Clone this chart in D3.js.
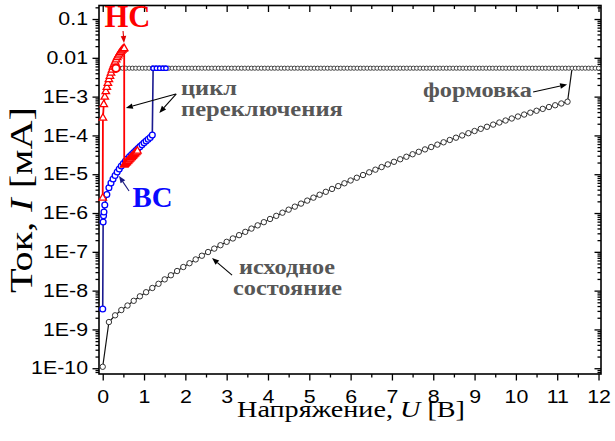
<!DOCTYPE html>
<html>
<head>
<meta charset="utf-8">
<script src="https://cdn.jsdelivr.net/npm/d3@7"></script>
<style>
  html, body { margin: 0; padding: 0; background: #fff; }
  svg { display: block; }
</style>
</head>
<body>
<svg id="chart" width="615" height="441"></svg>
<script>
// ---------- data: current (mA) vs voltage (V) ----------

// initial state sweep (black circles), 0 ... 11.25 V
const initialV = [0,0.15,0.3,0.45,0.6,0.75,0.9,1.05,1.2,1.35,1.5,1.65,1.8,1.95,2.1,2.25,2.4,2.55,
  2.7,2.85,3.0,3.15,3.3,3.45,3.6,3.75,3.9,4.05,4.2,4.35,4.5,4.65,4.8,4.95,5.1,5.25,5.4,5.55,5.7,5.85,
  6.0,6.15,6.3,6.45,6.6,6.75,6.9,7.05,7.2,7.35,7.5,7.65,7.8,7.95,8.1,8.25,8.4,8.55,8.7,8.85,9.0,9.15,
  9.3,9.45,9.6,9.75,9.9,10.05,10.2,10.35,10.5,10.65,10.8,10.95,11.1,11.25];
const initialI = [1.09e-10,1.55e-9,2.31e-9,3.16e-9,4.13e-9,5.46e-9,7.13e-9,9.1e-9,1.17e-8,1.5e-8,1.95e-8,
  2.49e-8,3.2e-8,4.06e-8,5.08e-8,6.37e-8,7.93e-8,9.88e-8,
  1.21e-7,1.48e-7,1.81e-7,2.21e-7,2.69e-7,3.27e-7,3.97e-7,4.81e-7,5.81e-7,7.02e-7,8.45e-7,1.02e-6,
  1.22e-6,1.46e-6,1.75e-6,2.09e-6,2.49e-6,2.96e-6,3.52e-6,4.18e-6,4.94e-6,5.84e-6,6.89e-6,8.11e-6,
  9.54e-6,1.12e-5,1.31e-5,1.53e-5,1.79e-5,2.09e-5,2.43e-5,2.82e-5,3.27e-5,3.78e-5,4.36e-5,5.03e-5,
  5.79e-5,6.65e-5,7.63e-5,8.74e-5,9.98e-5,1.14e-4,1.30e-4,1.48e-4,1.67e-4,1.90e-4,2.15e-4,2.42e-4,
  2.73e-4,3.07e-4,3.45e-4,3.86e-4,4.32e-4,4.83e-4,5.39e-4,5.99e-4,6.66e-4,7.39e-4];

// forming: current held at the compliance limit
const complianceI = 0.0054;
const formingJumpV = 11.36;
const formingV = [0.40,0.48,0.56,0.64,0.72,0.80,0.88,0.96,1.04,1.12,1.20,1.28,1.36,1.44,1.52,1.60,1.68,
  1.76,1.84,1.92,2.00,2.08,2.16,2.24,2.32,2.40,2.48,2.56,2.64,2.72,2.80,2.88,2.96,3.04,3.12,3.20,3.28,
  3.36,3.44,3.52,3.60,3.68,3.76,3.84,3.92,4.00,4.08,4.16,4.24,4.32,4.40,4.48,4.56,4.64,4.72,4.80,4.88,
  4.96,5.04,5.12,5.20,5.28,5.36,5.44,5.52,5.60,5.68,5.76,5.84,5.92,6.00,6.08,6.16,6.24,6.32,6.40,6.48,
  6.56,6.64,6.72,6.80,6.88,6.96,7.04,7.12,7.20,7.28,7.36,7.44,7.52,7.60,7.68,7.76,7.84,7.92,8.00,8.08,
  8.16,8.24,8.32,8.40,8.48,8.56,8.64,8.72,8.80,8.88,8.96,9.04,9.12,9.20,9.28,9.36,9.44,9.52,9.60,9.68,
  9.76,9.84,9.92,10.00,10.08,10.16,10.24,10.32,10.40,10.48,10.56,10.64,10.72,10.80,10.88,10.96,11.04,
  11.12,11.20,11.28,11.36,11.44,11.52,11.60,11.68,11.76,11.84,11.92,12.00];

// high-resistance state sweep (ВС, blue circles) with switching to compliance
const hrsV = [0,0.01,0.02,0.03,0.05,0.10,0.15,0.20,0.25,0.30,0.35,0.40,0.45,0.50,0.55,0.60,0.65,0.70,
  0.75,0.80,0.85,0.90,0.95,1.00,1.05,1.10,1.15,1.20,1.22,1.30,1.38,1.46,1.53];
const hrsI = [3.36e-9,5.86e-7,8.5e-7,1.06e-6,1.61e-6,3.0e-6,4.49e-6,5.92e-6,7.52e-6,9.25e-6,1.14e-5,
  1.36e-5,1.63e-5,1.88e-5,2.19e-5,2.5e-5,2.86e-5,3.21e-5,3.62e-5,4.07e-5,4.59e-5,5.14e-5,5.75e-5,
  6.43e-5,7.18e-5,7.96e-5,8.83e-5,1.02e-4,0.0054,0.0054,0.0054,0.0054,0.0054];

// low-resistance state sweep (НС, red triangles) with reset
const lrsV = [0,0.005,0.025,0.05,0.075,0.10,0.125,0.15,0.175,0.20,0.225,0.25,0.275,0.30,0.325,0.35,
  0.375,0.40,0.425,0.45,0.475,0.50,0.52,
  0.52,0.54,0.56,0.58,0.60,0.62,0.64,0.66,0.68,0.70,0.72,0.74,0.76,0.78,0.80,0.82,0.84];
const lrsI = [2.44e-6,2.81e-4,6.27e-4,9.77e-4,1.35e-3,1.74e-3,2.21e-3,2.75e-3,3.37e-3,4.06e-3,4.84e-3,
  5.79e-3,6.71e-3,7.8e-3,8.91e-3,1.02e-2,1.13e-2,1.25e-2,1.37e-2,1.5e-2,1.6e-2,1.7e-2,1.74e-2,
  1.73e-5,1.82e-5,1.91e-5,2.01e-5,2.12e-5,2.24e-5,2.36e-5,2.48e-5,2.62e-5,2.76e-5,2.9e-5,3.05e-5,
  3.22e-5,3.4e-5,3.57e-5,3.76e-5,3.96e-5];
const lrsComplianceV = [0.32];
const lrsComplianceI = [0.0054];

// axis ticks
const xTicks = [0,1,2,3,4,5,6,7,8,9,10,11,12];
const xMinorTicks = [0.5,1.5,2.5,3.5,4.5,5.5,6.5,7.5,8.5,9.5,10.5,11.5];
const yTicks = [1e-10,1e-9,1e-8,1e-7,1e-6,1e-5,1e-4,1e-3,1e-2,1e-1];
const yTickLabels = ["1E-10","1E-9","1E-8","1E-7","1E-6","1E-5","1E-4","1E-3","0.01","0.1"];

// ---------- layout ----------
const frame = { left: 99, right: 601, top: 5.5, bottom: 374 };
const svg = d3.select("#chart");
const x = d3.scaleLinear().domain([-0.09, 12.06]).range([frame.left, frame.right]);
const y = d3.scaleLog().domain([7.1e-11, 0.223]).range([frame.bottom, frame.top]);

const yMinorTicks = [];
yTicks.concat([1]).forEach(dec => {
  for (let m = 2; m <= 9; m++) {
    const v = dec / 10 * m;
    if (v > y.domain()[0] && v < y.domain()[1]) yMinorTicks.push(v);
  }
});

const sansFont = "'Liberation Sans', Arial, sans-serif";
const serifFont = "'Liberation Serif', 'Times New Roman', serif";
const textStretch = 1.22;

// ---------- axes ----------
function styleAxis(g) {
  g.select(".domain").remove();
  g.selectAll(".tick line").attr("stroke", "#000").attr("stroke-width", 1.3);
}
const yLabelOf = d => yTickLabels[yTicks.indexOf(d)];

svg.append("g").attr("transform", `translate(0,${frame.bottom})`)
  .call(d3.axisBottom(x).tickValues(xMinorTicks).tickSize(3.5).tickFormat("")).call(styleAxis);
const gx = svg.append("g").attr("transform", `translate(0,${frame.bottom})`)
  .call(d3.axisBottom(x).tickValues(xTicks).tickSize(6.5).tickPadding(10.5).tickFormat(d3.format("d")))
  .call(styleAxis);
svg.append("g").attr("transform", `translate(0,${frame.top})`)
  .call(d3.axisTop(x).tickValues(xMinorTicks).tickSize(-3.5).tickFormat("")).call(styleAxis);
svg.append("g").attr("transform", `translate(0,${frame.top})`)
  .call(d3.axisTop(x).tickValues(xTicks).tickSize(-6.5).tickFormat("")).call(styleAxis);

svg.append("g").attr("transform", `translate(${frame.left},0)`)
  .call(d3.axisLeft(y).tickValues(yMinorTicks).tickSize(3.5).tickFormat("")).call(styleAxis);
const gy = svg.append("g").attr("transform", `translate(${frame.left},0)`)
  .call(d3.axisLeft(y).tickValues(yTicks).tickSize(6.5).tickPadding(2.5).tickFormat(yLabelOf))
  .call(styleAxis);
svg.append("g").attr("transform", `translate(${frame.right},0)`)
  .call(d3.axisRight(y).tickValues(yMinorTicks).tickSize(-3.5).tickFormat("")).call(styleAxis);
svg.append("g").attr("transform", `translate(${frame.right},0)`)
  .call(d3.axisRight(y).tickValues(yTicks).tickSize(-6.5).tickFormat("")).call(styleAxis);

[gx, gy].forEach(g => g.selectAll(".tick text")
  .attr("font-family", sansFont).attr("font-size", 17.5).attr("fill", "#000")
  .attr("transform", `scale(${textStretch},1)`));

svg.append("rect")
  .attr("x", frame.left).attr("y", frame.top)
  .attr("width", frame.right - frame.left).attr("height", frame.bottom - frame.top)
  .attr("fill", "none").attr("stroke", "#000").attr("stroke-width", 1.6);

// ---------- series ----------
const zip = (vs, is) => vs.map((v, k) => ({ v, i: is[k] }));
const line = d3.line().x(d => x(d.v)).y(d => y(d.i));
const plot = svg.append("g");

const initialPts = zip(initialV, initialI);
const rowPts = formingV.map(v => ({ v, i: complianceI }));
const hrsPts = zip(hrsV, hrsI);
const lrsPts = zip(lrsV, lrsI);

// forming: initial sweep, jump to compliance, compliance row
plot.append("path").datum(initialPts.concat([{ v: formingJumpV, i: complianceI }]))
  .attr("d", line).attr("fill", "none").attr("stroke", "#111").attr("stroke-width", 1.2);
plot.append("path").datum(rowPts)
  .attr("d", line).attr("fill", "none").attr("stroke", "#111").attr("stroke-width", 1);
plot.append("g").selectAll("circle").data(rowPts).join("circle")
  .attr("cx", d => x(d.v)).attr("cy", d => y(d.i)).attr("r", 2.1)
  .attr("fill", "#fff").attr("stroke", "#333").attr("stroke-width", 0.9);
plot.append("g").selectAll("circle").data(initialPts).join("circle")
  .attr("cx", d => x(d.v)).attr("cy", d => y(d.i)).attr("r", 2.7)
  .attr("fill", "#fff").attr("stroke", "#333").attr("stroke-width", 1);

// ВС sweep
plot.append("path").datum(hrsPts)
  .attr("d", line).attr("fill", "none").attr("stroke", "#1a1a90").attr("stroke-width", 1.6);
plot.append("g").selectAll("circle").data(hrsPts).join("circle")
  .attr("cx", d => x(d.v)).attr("cy", d => y(d.i)).attr("r", d => d.i > 1e-3 ? 2.2 : 2.9)
  .attr("fill", "#fff").attr("stroke", "#0000ff").attr("stroke-width", 1.3);

// НС sweep
plot.append("path").datum(lrsPts)
  .attr("d", line).attr("fill", "none").attr("stroke", "#ff0000").attr("stroke-width", 1.8);
const tri = d3.symbol(d3.symbolTriangle).size(24);
plot.append("g").selectAll("path").data(lrsPts).join("path")
  .attr("d", tri).attr("transform", d => `translate(${x(d.v)},${y(d.i)})`)
  .attr("fill", "#fff").attr("stroke", "#ff0000").attr("stroke-width", 1.3);
plot.append("g").selectAll("circle").data(zip(lrsComplianceV, lrsComplianceI)).join("circle")
  .attr("cx", d => x(d.v)).attr("cy", d => y(d.i)).attr("r", 3.8)
  .attr("fill", "#fff").attr("stroke", "#ff0000").attr("stroke-width", 2);

// ---------- text ----------
function fitText(o) {
  const t = svg.append("text")
    .attr("font-family", o.family).attr("font-size", o.size)
    .attr("font-weight", o.weight || "normal").attr("fill", o.fill || "#000")
    .attr("text-anchor", o.anchor || "start");
  (o.parts || [{ text: o.text }]).forEach(p =>
    t.append("tspan").attr("font-style", p.italic ? "italic" : null).text(p.text));
  const natural = t.node().getComputedTextLength();
  const sx = o.len / natural;
  t.attr("transform", `translate(${o.x},${o.y})${o.rotate ? ` rotate(${o.rotate})` : ""} scale(${sx},1)`);
  return t;
}

fitText({ x: 351, y: 416.5, anchor: "middle", family: serifFont, size: 23, len: 228,
  parts: [{ text: "Напряжение, " }, { text: "U", italic: true }, { text: " [В]" }] });
fitText({ x: 32, y: 200, anchor: "middle", rotate: -90, family: serifFont, size: 31, len: 186,
  parts: [{ text: "Ток, " }, { text: "I", italic: true }, { text: " [мА]" }] });

const noteGray = "#575757";
const notes = [
  { text: "цикл", x: 181, y: 95, len: 56 },
  { text: "переключения", x: 181, y: 116, len: 162 },
  { text: "исходное", x: 239, y: 274.3, len: 96 },
  { text: "состояние", x: 233, y: 295, len: 109 },
  { text: "формовка", x: 423, y: 96.7, len: 109 }
];
notes.forEach(n => fitText({ ...n, family: serifFont, size: 21.5, weight: "bold", fill: noteGray }));
fitText({ text: "НС", x: 104.5, y: 26.7, len: 46, family: serifFont, size: 31, weight: "bold", fill: "#ff0000" });
fitText({ text: "ВС", x: 132.5, y: 207, len: 40, family: serifFont, size: 30, weight: "bold", fill: "#0a0aff" });

// ---------- arrows (tip in data units, tail as pixel offset from tip) ----------
const arrows = [
  { v: 0.516, i: 0.024, dx: -1, dy: -12, color: "#e00000" },
  { v: 0.395, i: 9.0e-6, dx: 10, dy: 15, color: "#1a1a80" },
  { v: 0.56, i: 5.1e-4, dx: 50, dy: -14, color: "#000" },
  { v: 1.37, i: 3.8e-4, dx: 17, dy: -19, color: "#000" },
  { v: 2.646, i: 6.9e-8, dx: 20, dy: 17, color: "#000" },
  { v: 11.24, i: 2.05e-3, dx: -34, dy: 7.5, color: "#000" }
];
const ag = svg.append("g");
arrows.forEach(a => {
  const tx = x(a.v), ty = y(a.i);
  const sx = tx + a.dx, sy = ty + a.dy;
  const len = Math.hypot(a.dx, a.dy), ux = -a.dx / len, uy = -a.dy / len;
  const hl = 7, hw = 2.8;
  const bx = tx - ux * hl, by = ty - uy * hl;
  ag.append("line").attr("x1", sx).attr("y1", sy).attr("x2", bx).attr("y2", by)
    .attr("stroke", a.color).attr("stroke-width", 1.1);
  ag.append("path")
    .attr("d", `M${tx},${ty}L${bx - uy * hw},${by + ux * hw}L${bx + uy * hw},${by - ux * hw}Z`)
    .attr("fill", a.color);
});
</script>
</body>
</html>
